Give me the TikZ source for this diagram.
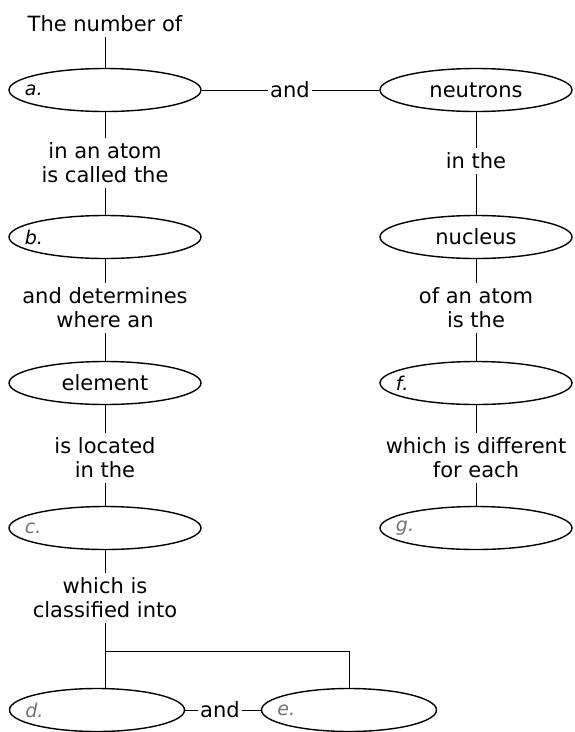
\documentclass[tikz,border=0pt]{standalone}
\usepackage{fontspec}
\setmainfont{DejaVu Sans}
\usetikzlibrary{shapes.geometric,positioning}

\begin{document}
\begin{tikzpicture}[x=1pt,y=-1pt,
  every node/.style={font=\fontsize{21}{24}\selectfont},
  oval/.style={draw,ellipse,line width=1.4pt,minimum width=192pt,minimum height=43pt,inner sep=1pt},
  small oval/.style={oval,minimum width=175pt},
  linkword/.style={align=center,inner sep=5pt},
  letter/.style={anchor=west,xshift=13pt,font=\fontsize{19}{22}\selectfont\itshape},
  faint/.style={letter,text=black!55},
  line width=0.6pt]
\useasboundingbox (0,0) rectangle (575,732);
% left column
\node[linkword] (numof) at (105,24) {The number of};
\node[oval,label={[letter]west:a.}] (a) at (105,90) {};
\node[linkword] (calledthe) at (105,163) {in an atom\\is called the};
\node[oval,label={[letter]west:b.}] (b) at (105,237) {};
\node[linkword] (determines) at (105,308) {and determines\\where an};
\node[oval] (element) at (105,383) {element};
\node[linkword] (located) at (105,458) {is located\\in the};
\node[oval,label={[faint]west:c.}] (c) at (105,528) {};
\node[linkword] (classified) at (105,598) {which is\\classified into};
% right column
\node[oval] (neutrons) at (476,90) {neutrons};
\node[linkword] (inthe) at (476,161) {in the};
\node[oval] (nucleus) at (476,237) {nucleus};
\node[linkword] (ofatom) at (476,308) {of an atom\\is the};
\node[oval,label={[letter]west:f.}] (f) at (476,383) {};
\node[linkword] (different) at (476,458) {which is different\\for each};
\node[oval,label={[faint]west:g.}] (g) at (476,528) {};
% bottom row
\node[small oval,label={[faint]west:d.}] (d) at (97,710) {};
\node[small oval,label={[faint]west:e.}] (e) at (349,710) {};
\node[inner sep=2pt] (and2) at (220,710) {and};
\node[inner sep=2pt] (and1) at (290,90) {and};
\coordinate (fork) at (105,651);
\draw (numof)--(a); \draw (a)--(calledthe); \draw (calledthe)--(b);
\draw (b)--(determines); \draw (determines)--(element);
\draw (element)--(located); \draw (located)--(c); \draw (c)--(classified);
\draw (a)--(and1); \draw (and1)--(neutrons);
\draw (neutrons)--(inthe); \draw (inthe)--(nucleus);
\draw (nucleus)--(ofatom); \draw (ofatom)--(f);
\draw (f)--(different); \draw (different)--(g);
\draw (classified)--(fork); \draw (fork)-|(e.north);
\draw (fork)--(fork|-d.north);
\draw (d)--(and2); \draw (and2)--(e);
\end{tikzpicture}
\end{document}
